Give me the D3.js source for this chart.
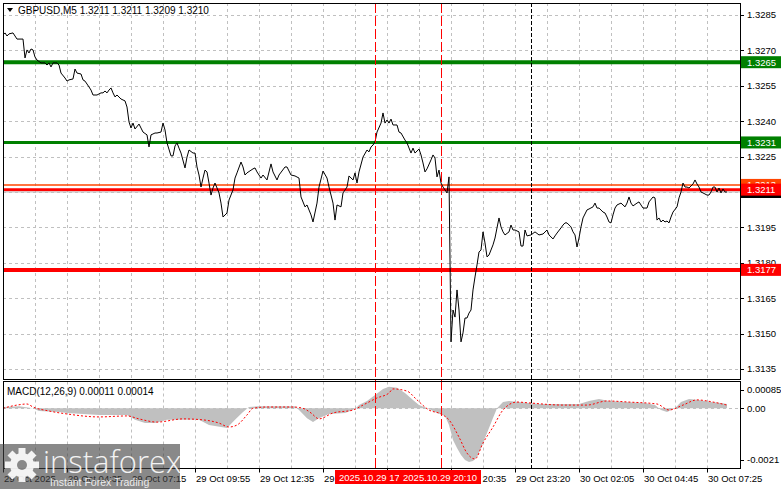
<!DOCTYPE html>
<html><head><meta charset="utf-8">
<script src="https://cdn.jsdelivr.net/npm/d3@7"></script>
<style>body{margin:0;background:#fff}svg{display:block;font-family:"Liberation Sans",Arial,sans-serif}</style>
</head><body><svg id="c" width="781" height="489"></svg>
<script>
// ---------- DATA ----------
const symbolTitle = "GBPUSD,M5  1.3211 1.3211 1.3209 1.3210";
const macdTitle = "MACD(12,26,9) 0.00011 0.00014";
const closeBar = [0,1,2,3,5,6,7,10,11,12,13,14,15,16,17,19,21,22,23,24,25,27,28,29,31,32,33,35,36,37,39,40,41,43,44,45,47,49,50,51,52,53,54,55,56,57,59,61,62,63,64,65,66,68,69,70,72,73,74,76,77,79,80,81,82,84,85,86,87,88,89,91,92,93,95,96,97,98,99,100,101,102,103,104,105,106,107,108,109,110,112,113,115,116,117,119,120,121,122,125,126,127,129,130,132,134,135,137,138,141,142,144,146,148,149,151,152,154,155,157,158,160,162,163,165,166,167,169,170,172,173,175,176,177,178,180,182,183,184,185,186,187,189,190,191,192,193,194,195,197,198,199,201,202,204,205,206,208,209,210,211,212,214,215,216,217,218,219,220,221,222,223,224,225,226,227,228,229,230,231,232,233,234,235,236,237,238,239,240,241,242,243,245,246,247,248,249,250,251,253,254,255,256,258,259,260,261,262,264,266,268,270,272,273,275,276,277,279,280,281,282,284,285,286,287,288,289,290,292,293,295,296,297,298,300,301,302,303,304,305,306,307,309,311,312,313,314,315,317,318,319,320,322,323,325,326,327,328,329,330,331,332,333,334,335,337,338,339,340,341,342,343,345,346,347,348,349,350,352,353,354,355,356,357,358,359,360,361,362];
const closePrice = [1.32765,1.32774,1.32761,1.32770,1.32774,1.32761,1.32748,1.32748,1.32668,1.32702,1.32689,1.32706,1.32702,1.32672,1.32659,1.32647,1.32647,1.32638,1.32647,1.32630,1.32647,1.32647,1.32638,1.32604,1.32583,1.32570,1.32575,1.32579,1.32621,1.32604,1.32600,1.32575,1.32570,1.32545,1.32532,1.32511,1.32511,1.32520,1.32520,1.32528,1.32520,1.32532,1.32541,1.32520,1.32503,1.32511,1.32494,1.32486,1.32460,1.32397,1.32371,1.32392,1.32367,1.32388,1.32371,1.32354,1.32342,1.32291,1.32342,1.32350,1.32350,1.32354,1.32392,1.32363,1.32308,1.32253,1.32253,1.32295,1.32308,1.32286,1.32265,1.32202,1.32248,1.32278,1.32265,1.32265,1.32206,1.32172,1.32121,1.32159,1.32193,1.32185,1.32138,1.32087,1.32117,1.32138,1.32117,1.32096,1.32053,1.31994,1.32011,1.32066,1.32109,1.32159,1.32181,1.32227,1.32206,1.32172,1.32181,1.32198,1.32202,1.32185,1.32159,1.32172,1.32151,1.32219,1.32185,1.32151,1.32172,1.32206,1.32206,1.32172,1.32168,1.32159,1.32079,1.32037,1.32045,1.32003,1.31973,1.32053,1.32121,1.32189,1.32159,1.32121,1.32053,1.31981,1.32045,1.32037,1.32096,1.32121,1.32168,1.32151,1.32181,1.32138,1.32185,1.32248,1.32278,1.32270,1.32291,1.32299,1.32312,1.32354,1.32392,1.32435,1.32392,1.32405,1.32392,1.32409,1.32384,1.32384,1.32354,1.32350,1.32320,1.32308,1.32265,1.32286,1.32265,1.32282,1.32257,1.32223,1.32185,1.32198,1.32236,1.32257,1.32244,1.32164,1.32193,1.32138,1.32121,1.32109,1.32096,1.32164,1.31465,1.31600,1.31570,1.31685,1.31600,1.31465,1.31503,1.31566,1.31566,1.31587,1.31600,1.31685,1.31740,1.31791,1.31846,1.31854,1.31931,1.31884,1.31825,1.31833,1.31876,1.31905,1.31948,1.31990,1.31952,1.31931,1.31918,1.31931,1.31960,1.31939,1.31939,1.31931,1.31871,1.31871,1.31939,1.31914,1.31918,1.31931,1.31918,1.31922,1.31939,1.31918,1.31901,1.31914,1.31926,1.31948,1.31960,1.31969,1.31969,1.31952,1.31931,1.31918,1.31867,1.31905,1.31952,1.31990,1.32024,1.32028,1.32037,1.32053,1.32032,1.32032,1.32015,1.32011,1.31994,1.31973,1.31969,1.32003,1.32032,1.32045,1.32053,1.32037,1.32053,1.32079,1.32053,1.32041,1.32053,1.32058,1.32045,1.32032,1.32032,1.32058,1.32079,1.32075,1.31981,1.31990,1.31973,1.31981,1.31973,1.31977,1.31969,1.31994,1.32015,1.32037,1.32075,1.32100,1.32138,1.32121,1.32121,1.32117,1.32134,1.32151,1.32134,1.32121,1.32100,1.32096,1.32087,1.32087,1.32100,1.32121,1.32121,1.32100,1.32117,1.32096,1.32113,1.32100,1.32100];

const histBar = [0,8,15,18,28,32,48,62,66,71,76,82,90,98,103,109,112,116,120,123,128,138,146,148,152,155,158,163,171,176,178,182,186,190,193,197,201,205,208,213,217,221,223,225,227,229,231,233,235,237,239,241,243,245,247,250,253,258,268,278,288,293,298,303,311,321,326,329,332,336,339,343,348,354,359,362];
const histValue = [0.00006,0.0001,0,-0.00011,-0.00015,-0.00019,-0.00027,-0.00027,-0.00047,-0.0006,-0.0006,-0.00047,-0.00047,-0.00047,-0.00068,-0.00076,-0.0008,-0.00047,-0.00015,0.00006,0.0001,0.0001,0.0001,-0.00007,-0.0004,-0.00056,-0.0004,-0.00023,-0.00019,-0.00003,0.00015,0.00034,0.00062,0.0009,0.001,0.00095,0.00071,0.00039,0.00015,-0.00003,-0.00019,-0.00031,-0.00068,-0.00129,-0.00161,-0.0019,-0.0021,-0.00218,-0.00214,-0.00198,-0.00161,-0.00121,-0.0008,-0.00039,0,0.00029,0.00034,0.00029,0.0002,0.0002,0.0002,0.00034,0.00043,0.00034,0.00029,0.00025,0.00015,-0.00007,-0.00015,0,0.00029,0.00043,0.00039,0.00029,0.00025,0.0002];
const signalBar = [0,7,12,15,23,32,48,62,68,77,90,100,108,113,117,122,125,132,145,150,154,158,165,175,180,187,193,195,202,207,213,219,223,228,232,236,240,245,250,257,263,280,292,302,313,327,333,340,347,355,362];
const signalValue = [0,0.00015,0.0002,0.00006,-0.00011,-0.00023,-0.00035,-0.00031,-0.00043,-0.00056,-0.00043,-0.00047,-0.0006,-0.00076,-0.00068,-0.00027,0,0.00006,0.00006,0,-0.00019,-0.00043,-0.00019,-0.00007,0.00015,0.00048,0.00071,0.0009,0.0008,0.00039,-0.00007,-0.00023,-0.00047,-0.00117,-0.00182,-0.00206,-0.00141,-0.00076,-0.00007,0.00029,0.00025,0.00015,0.00015,0.00034,0.00029,0.0002,-0.00007,0.00015,0.00039,0.00029,0.00015];

const priceTicks = [1.3285,1.3270,1.3255,1.3240,1.3225,1.3210,1.3195,1.3180,1.3165,1.3150,1.3135];
const macdTicks = [0.00085,0,-0.0021];
const macdTickLabels = ["0.00085","0.00","-0.0021"];
const timeTickBars = [0,32,64,96,128,160,192,224,256,288,320,352];
const timeTickLabels = ["29 Oct 2025","29 Oct 04:35","29 Oct 07:15","29 Oct 09:55","29 Oct 12:35","29 Oct 15:15","29 Oct 17:55","29 Oct 20:35","29 Oct 23:20","30 Oct 02:05","30 Oct 04:45","30 Oct 07:25"];
const levelPrices = [1.3265,1.3231,1.3213,1.3211,1.3210,1.3177];
const eventBars = [186,219];
const eventLabels = ["2025.10.29 17:25","2025.10.29 20:10"];
const daySeparatorBars = [264];

// ---------- LAYOUT / STYLE ----------
const L=3, R=740, T=3, MB=379.5, MT=381.5, AB=468.5;
const levelWidth = [4,3,1.5,3,1,4];
const levelLineColor = ["#008000","#008000","#ff4500","#ff0000","#c0c0c0","#ff0000"];

const svg = d3.select("#c");
const x = d3.scaleLinear().domain([0,362]).range([3,727]);
const y = d3.scaleLinear().domain([1.3135,1.3285]).range([369,15]);
const m = d3.scaleLinear().domain([-0.0021,0,0.00085]).range([460,408.3,390]);

svg.append("rect").attr("width",781).attr("height",489).attr("fill","#fff");
const defs = svg.append("defs");
defs.append("clipPath").attr("id","cm").append("rect").attr("x",L+1).attr("y",T+1).attr("width",R-L-1).attr("height",MB-T-1.5);
defs.append("clipPath").attr("id","cd").append("rect").attr("x",L+1).attr("y",MT+1).attr("width",R-L-1).attr("height",AB-MT-1.5);

const grid = svg.append("g").attr("stroke","#c0c0c0").attr("stroke-dasharray","3,3").attr("stroke-width",1);
const gridBars = d3.range(16,353,16);
grid.selectAll(".vg1").data(gridBars).join("line").attr("x1",d=>Math.round(x(d))+0.5).attr("x2",d=>Math.round(x(d))+0.5).attr("y1",T).attr("y2",MB);
grid.selectAll(".vg2").data(gridBars).join("line").attr("x1",d=>Math.round(x(d))+0.5).attr("x2",d=>Math.round(x(d))+0.5).attr("y1",MT).attr("y2",AB);
grid.selectAll(".hg").data(priceTicks).join("line").attr("x1",L).attr("x2",R).attr("y1",d=>Math.round(y(d))+0.5).attr("y2",d=>Math.round(y(d))+0.5);
grid.append("line").attr("x1",L).attr("x2",R).attr("y1",Math.round(m(0))+0.5).attr("y2",Math.round(m(0))+0.5);

// main panel
const main = svg.append("g").attr("clip-path","url(#cm)");
main.selectAll(".lvl").data(levelPrices).join("line")
  .attr("x1",L).attr("x2",R).attr("y1",d=>y(d)).attr("y2",d=>y(d))
  .attr("stroke",(d,i)=>levelLineColor[i]).attr("stroke-width",(d,i)=>levelWidth[i]);
const pts = closeBar.map((b,i)=>[b,closePrice[i]]);
main.append("path").datum(pts).attr("fill","none").attr("stroke","#000").attr("stroke-width",1)
  .attr("d",d3.line().x(d=>x(d[0])).y(d=>y(d[1])));

// macd panel
const mp = svg.append("g").attr("clip-path","url(#cd)");
const hp = histBar.map((b,i)=>[b,histValue[i]]);
mp.append("path").datum(hp).attr("fill","#c0c0c0")
  .attr("d",d3.area().x(d=>x(d[0])).y0(m(0)).y1(d=>m(d[1])));
const sp = signalBar.map((b,i)=>[b,signalValue[i]]);
mp.append("path").datum(sp).attr("fill","none").attr("stroke","#ff0000").attr("stroke-width",1).attr("stroke-dasharray","2,2")
  .attr("d",d3.line().curve(d3.curveMonotoneX).x(d=>x(d[0])).y(d=>m(d[1])));

// vertical event lines
svg.selectAll(".ev").data(eventBars).join("line").attr("x1",d=>x(d)+0.5).attr("x2",d=>x(d)+0.5).attr("y1",T).attr("y2",AB)
  .attr("stroke","#ff0000").attr("stroke-width",1).attr("stroke-dasharray","10,3");
svg.selectAll(".ds").data(daySeparatorBars).join("line").attr("x1",d=>x(d)+0.5).attr("x2",d=>x(d)+0.5).attr("y1",T).attr("y2",AB)
  .attr("stroke","#000").attr("stroke-width",1).attr("stroke-dasharray","4,2");

// frames
const fr = svg.append("g").attr("stroke","#000").attr("stroke-width",1).attr("fill","none");
fr.append("rect").attr("x",L+0.5).attr("y",T+0.5).attr("width",R-L).attr("height",MB-T-0.5);
fr.append("rect").attr("x",L+0.5).attr("y",MT).attr("width",R-L).attr("height",AB-MT);

// price axis
const pa = svg.append("g").attr("font-size","9.5px").attr("fill","#000");
pa.selectAll(".pt").data(priceTicks).join("line").attr("x1",R).attr("x2",R+4).attr("y1",d=>Math.round(y(d))+0.5).attr("y2",d=>Math.round(y(d))+0.5).attr("stroke","#000");
pa.selectAll(".pl").data(priceTicks).join("text").attr("x",R+7).attr("y",d=>y(d)).attr("dy","0.35em").text(d=>d.toFixed(4));
// level labels
const boxOrder = [0,1,2,4,3,5];
const boxFill = ["#008000","#008000","#ff4500","#ff0000","#000000","#ff0000"];
const lb = svg.append("g").attr("font-size","9.5px");
boxOrder.forEach(i=>{
  const yy = y(levelPrices[i]);
  lb.append("rect").attr("x",R+1).attr("y",yy-6).attr("width",781-R-1).attr("height",12).attr("fill",boxFill[i]);
  lb.append("text").attr("x",R+7).attr("y",yy).attr("dy","0.35em").attr("fill","#fff").text(levelPrices[i].toFixed(4));
});

// macd axis
const ma = svg.append("g").attr("font-size","9.5px");
ma.selectAll("line").data(macdTicks).join("line").attr("x1",R).attr("x2",R+4).attr("y1",d=>Math.round(m(d))+0.5).attr("y2",d=>Math.round(m(d))+0.5).attr("stroke","#000");
ma.selectAll("text").data(macdTicks).join("text").attr("x",R+7).attr("y",d=>m(d)).attr("dy","0.35em").text((d,i)=>macdTickLabels[i]);

// time axis
const ta = svg.append("g").attr("font-size","9.5px");
ta.selectAll("line").data(timeTickBars).join("line").attr("x1",d=>x(d)+0.5).attr("x2",d=>x(d)+0.5).attr("y1",AB).attr("y2",AB+4).attr("stroke","#000");
ta.selectAll("text").data(timeTickBars).join("text").attr("x",d=>x(d)+1).attr("y",482).text((d,i)=>timeTickLabels[i]);
eventBars.forEach((b,i)=>{
  const g = svg.append("g").attr("font-size","9.5px");
  const t = g.append("text").attr("y",481).attr("fill","#fff").text(eventLabels[i]);
  const w = t.node().getComputedTextLength();
  const left = i===0 ? x(b)-40 : x(b)+40-w-8;
  t.attr("x",left+4);
  g.insert("rect","text").attr("x",left).attr("y",470).attr("width",w+8).attr("height",14).attr("fill","#ff0000");
});

// titles
svg.append("path").attr("d","M7,8 L13,8 L10,12 Z").attr("fill","#000");
svg.append("text").attr("x",18).attr("y",14).attr("font-size","10px").attr("fill","#000").text(symbolTitle);
svg.append("text").attr("x",7).attr("y",395).attr("font-size","10px").attr("fill","#000").text(macdTitle);

// watermark
const wm = svg.append("g");
wm.append("rect").attr("x",0).attr("y",444).attr("width",180).attr("height",45).attr("fill","#404040").attr("opacity",0.62);
const gear = wm.append("g").attr("transform","translate(22,465)").attr("fill","#fff").attr("opacity",0.9);
d3.range(8).forEach(k=>gear.append("rect").attr("x",-3.5).attr("y",-17).attr("width",7).attr("height",9).attr("transform",`rotate(${k*45})`));
gear.append("circle").attr("r",12);
gear.append("circle").attr("r",5).attr("fill","#8a8a8a");
wm.append("text").attr("x",43).attr("y",473).attr("font-family","'Open Sans',sans-serif").attr("font-weight",300).attr("font-size","31px").attr("fill","#fff").attr("opacity",0.9).text("instaforex");
wm.append("text").attr("x",50).attr("y",486).attr("font-size","10.5px").attr("fill","#fff").attr("opacity",0.85).text("Instant Forex Trading");
</script></body></html>
